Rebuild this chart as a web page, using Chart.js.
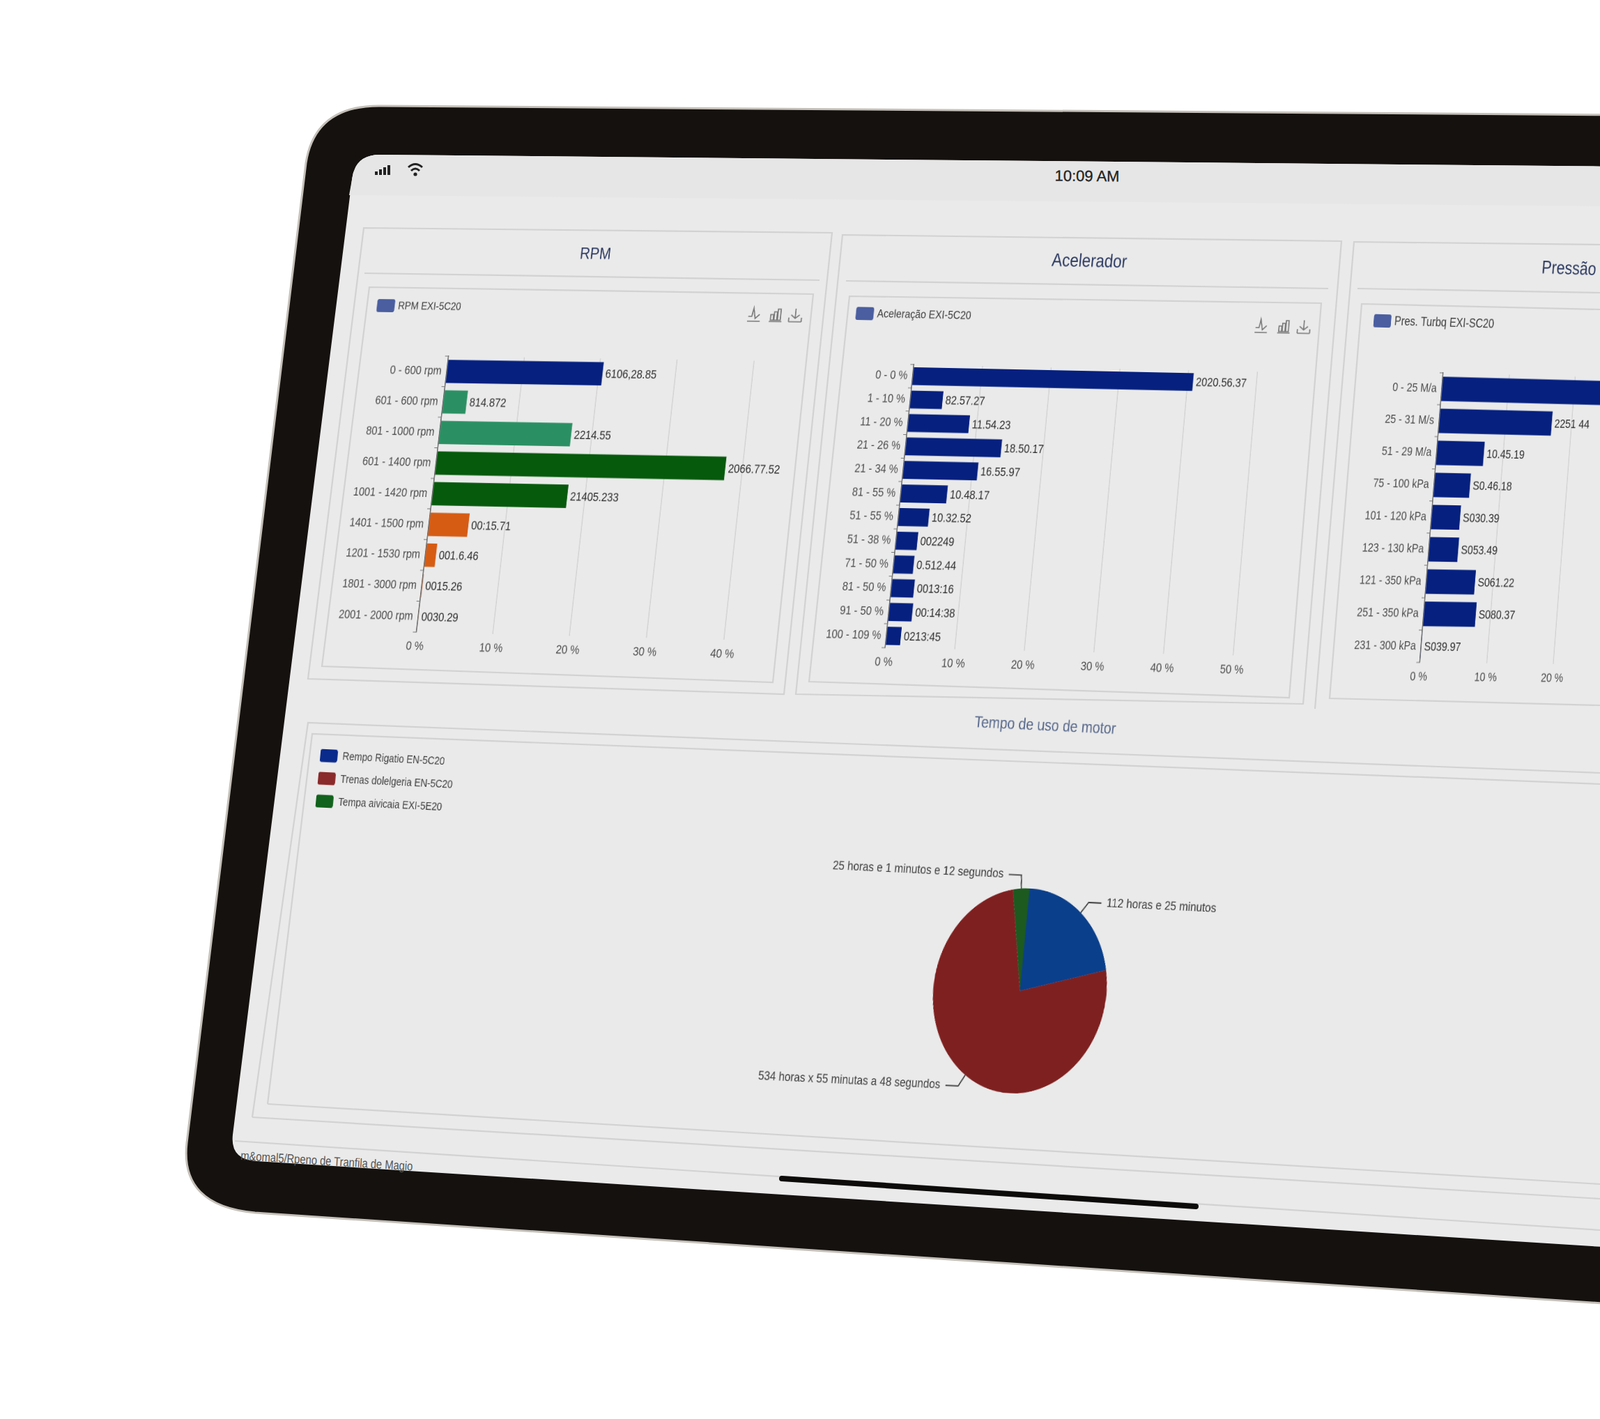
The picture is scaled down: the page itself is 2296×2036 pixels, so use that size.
<!DOCTYPE html>
<html>
<head>
<meta charset="utf-8">
<title>Painel motor</title>
<script src="https://cdn.jsdelivr.net/npm/chart.js@4/dist/chart.umd.min.js"></script>
<style>
    html, body { margin: 0; padding: 0; background: #fff; }
    #page { position: relative; width: 2296px; height: 2036px; overflow: hidden; background: #fff; filter: blur(0.5px); }
    #frame { position: absolute; left: 0; top: 0; }
    .panel { position: absolute; left: 0; top: 0; transform-origin: 0 0; }
    .panel canvas { display: block; }
</style>
</head>
<body>
<div id="page">
<svg id="frame" width="2296" height="2036" viewBox="0 0 2296 2036">
    <!-- tablet body and screen -->
    <path d="M2330 165 L548 152 Q452 150 439 234 L268 1640 Q258 1730 366 1740 L2330 1872 Z" fill="#14110e" stroke="#c4bfb8" stroke-width="3"/>
    <path d="M2330 239 L545 222 Q509 222 505 258 L334 1628 Q330 1664 368 1666 L2330 1791 Z" fill="#eaeaea"/>
    <path d="M2330 239 L545 222 Q509 222 505 258 L501 280 L2330 296 Z" fill="#e6e6e6"/>

    <!-- status bar -->
    <g fill="#222">
        <rect x="538" y="246" width="4" height="5"/>
        <rect x="544" y="243" width="4" height="8"/>
        <rect x="550" y="240" width="4" height="11"/>
        <rect x="556" y="237" width="4" height="14"/>
    </g>
    <g fill="none" stroke="#222" stroke-width="3">
        <path d="M586 240 Q596 231 606 240"/>
        <path d="M590 245 Q596 239 602 245"/>
    </g>
    <circle cx="596" cy="250" r="2.6" fill="#222"/>
    <text x="1560" y="260" text-anchor="middle" font-family="Liberation Sans" font-size="22" fill="#222" stroke="#222" stroke-width="0.3" transform="rotate(0.5 1560 252)">10:09 AM</text>

    <!-- panel frames -->
    <g fill="none" stroke="#d2d2d2" stroke-width="2.2">
        <path d="M442 974 L522 327 L1194 334 L1125 996 Z"/>
        <path d="M523 392 L1176 402"/>
        <path d="M462 956 L530 412 L1167 422 L1109 979 Z"/>
        <path d="M1142 996 L1209 337 L1925 346 L1870 1010 Z"/>
        <path d="M1214 403 L1906 414"/>
        <path d="M1161 978 L1219 425 L1896 435 L1850 1001 Z"/>
        <path d="M1887 1017 L1943 347 L2296 351"/>
        <path d="M1948 414 L2296 420"/>
        <path d="M2296 444 L1954 436 L1908 1002 L2296 1012"/>
        <path d="M362 1603 L442 1037 L2296 1109"/>
        <path d="M384 1584 L448 1053 L2296 1125"/>
        <path d="M384 1584 L2296 1699"/>
        <path d="M362 1603 L2296 1720"/>
        <path d="M337 1637 L2296 1765"/>
    </g>

    <!-- footer -->
    <text font-family="Liberation Sans" font-size="18" fill="#555" transform="translate(345 1664) rotate(3.6) scale(0.82 1)">m&amp;omal5/Rpeno de Tranfila de Magio</text>
    <path d="M1122 1691 L1716 1731" stroke="#0d0b0a" stroke-width="8" stroke-linecap="round"/>
</svg>
</div>

<script>
// RPM
const rpmCategories = ['0 - 600 rpm', '601 - 600 rpm', '801 - 1000 rpm', '601 - 1400 rpm', '1001 - 1420 rpm', '1401 - 1500 rpm', '1201 - 1530 rpm', '1801 - 3000 rpm', '2001 - 2000 rpm'];
const rpmValues = [20.5, 3.1, 17.3, 37.8, 17.7, 5.2, 1.4, 0.1, 0.05];
const rpmLabels = ['6106,28.85', '814.872', '2214.55', '2066.77.52', '21405.233', '00:15.71', '001.6.46', '0015.26', '0030.29'];
const rpmColors = ['#05207f', '#2a9063', '#2a9063', '#065a0c', '#065a0c', '#d65c14', '#d65c14', '#d65c14', '#d65c14'];

// Acelerador
const acelCategories = ['0 - 0 %', '1 - 10 %', '11 - 20 %', '21 - 26 %', '21 - 34 %', '81 - 55 %', '51 - 55 %', '51 - 38 %', '71 - 50 %', '81 - 50 %', '91 - 50 %', '100 - 109 %'];
const acelValues = [40.8, 4.7, 8.9, 13.9, 10.8, 6.7, 4.4, 3.1, 2.9, 3.3, 3.4, 2.1];
const acelLabels = ['2020.56.37', '82.57.27', '11.54.23', '18.50.17', '16.55.97', '10.48.17', '10.32.52', '002249', '0.512.44', '0013:16', '00:14:38', '0213:45'];

// Pressao
const presCategories = ['0 - 25 M/a', '25 - 31 M/s', '51 - 29 M/a', '75 - 100 kPa', '101 - 120 kPa', '123 - 130 kPa', '121 - 350 kPa', '251 - 350 kPa', '231 - 300 kPa'];
const presValues = [40, 17, 7.1, 5.4, 4.3, 4.4, 7.3, 7.8, 0.05];
const presLabels = ['', '2251 44', '10.45.19', 'S0.46.18', 'S030.39', 'S053.49', 'S061.22', 'S080.37', 'S039.97'];

// Tempo de uso
const pieLegend = ['Rempo Rigatio EN-5C20', 'Trenas dolelgeria EN-5C20', 'Tempa aivicaia EXI-5E20'];
const pieLabels = ['112 horas e 25 minutos', '534 horas x 55 minutas a 48 segundos', '25 horas e 1 minutos e 12 segundos'];
const pieValues = [21.1, 75.85, 3.05];
const pieColors = ['#0a3f8c', '#7f2020', '#1c5a20'];
const pieLegendColors = ['#0a2a8c', '#8a2a2a', '#11621c'];

const barBlue = '#05207f';
const font = 'Liberation Sans';
// the bar panels are laid out this much wider than they end up, so the text comes out narrow
const squeeze = 1 / 0.84;

// solve the 4 point perspective and put it on the element as matrix3d
const setPerspective = (el, from, to) => {
    const a = [];
    for (let i = 0; i < 4; i++) {
        const [x, y] = from[i];
        const [u, v] = to[i];
        a.push([x, y, 1, 0, 0, 0, -x * u, -y * u, u]);
        a.push([0, 0, 0, x, y, 1, -x * v, -y * v, v]);
    }
    for (let c = 0; c < 8; c++) {
        let p = c;
        for (let r = c + 1; r < 8; r++) if (Math.abs(a[r][c]) > Math.abs(a[p][c])) p = r;
        [a[c], a[p]] = [a[p], a[c]];
        for (let r = 0; r < 8; r++) {
            if (r === c) continue;
            const f = a[r][c] / a[c][c];
            for (let k = c; k < 9; k++) a[r][k] -= f * a[c][k];
        }
    }
    const h = a.map((row, i) => row[8] / row[i]);
    el.style.transform = `matrix3d(${h[0]},${h[3]},0,${h[6]},${h[1]},${h[4]},0,${h[7]},0,0,1,0,${h[2]},${h[5]},0,1)`;
};

const addPanel = (width, height) => {
    const div = document.createElement('div');
    div.className = 'panel';
    div.style.width = width + 'px';
    div.style.height = height + 'px';
    const canvas = document.createElement('canvas');
    canvas.width = width;
    canvas.height = height;
    canvas.style.width = width + 'px';
    canvas.style.height = height + 'px';
    div.appendChild(canvas);
    document.getElementById('page').appendChild(div);
    return { div, canvas };
};

const drawIcons = (ctx, xs, y) => {
    ctx.save();
    ctx.scale(squeeze, 1);
    ctx.strokeStyle = '#777';
    ctx.lineWidth = 1.6;
    xs.forEach((px, i) => {
        const x = px / squeeze;
        ctx.beginPath();
        ctx.moveTo(x - 9, y + 10);
        ctx.lineTo(x + 9, y + 10);
        if (i === 0) {
            ctx.moveTo(x - 8, y + 3);
            ctx.lineTo(x - 3, y + 3);
            ctx.lineTo(x - 1, y - 9);
            ctx.lineTo(x + 2, y + 6);
            ctx.lineTo(x + 8, y);
        } else if (i === 1) {
            ctx.rect(x - 7, y, 4, 8);
            ctx.rect(x - 2, y - 4, 4, 12);
            ctx.rect(x + 3, y - 8, 4, 16);
        } else {
            ctx.moveTo(x, y - 9);
            ctx.lineTo(x, y + 5);
            ctx.moveTo(x - 6, y);
            ctx.lineTo(x, y + 5);
            ctx.lineTo(x + 6, y);
            ctx.moveTo(x - 9, y + 4);
            ctx.lineTo(x - 9, y + 10);
            ctx.moveTo(x + 9, y + 4);
            ctx.lineTo(x + 9, y + 10);
        }
        ctx.stroke();
    });
    ctx.restore();
};

// one titled panel with a horizontal bar chart
const barPanel = (cfg) => {
    const plotLeft = 230, plotTop = 170, rightPad = 120, bottomPad = 50;
    const { div, canvas } = addPanel(Math.round(plotLeft + cfg.plotWidth * squeeze + rightPad), plotTop + cfg.plotHeight + bottomPad);

    const decor = {
        id: 'decor',
        afterDatasetsDraw: (chart) => {
            const ctx = chart.ctx;
            const area = chart.chartArea;
            const meta = chart.getDatasetMeta(0);

            // values at the end of the bars
            ctx.save();
            ctx.font = `17.5px "${font}"`;
            ctx.fillStyle = '#2e2e2e';
            ctx.textBaseline = 'middle';
            ctx.textAlign = 'left';
            meta.data.forEach((bar, i) => {
                ctx.fillText(cfg.labels[i], bar.x + 5, bar.y + 1);
            });

            // title
            ctx.font = `${cfg.titleSize}px "${font}"`;
            ctx.fillStyle = '#2c3a62';
            ctx.textAlign = 'center';
            ctx.fillText(cfg.title, area.left + cfg.titleX * squeeze, area.top + cfg.titleY);

            // legend
            const legendX = area.left + cfg.legendX * squeeze;
            ctx.fillStyle = '#4a5ea0';
            ctx.beginPath();
            ctx.roundRect(legendX, area.top - 82, 26 * squeeze, 19, 3);
            ctx.fill();
            ctx.fillStyle = '#3c3c3c';
            ctx.textAlign = 'left';
            ctx.font = `${cfg.legendSize}px "${font}"`;
            ctx.fillText(cfg.legend, legendX + 31 * squeeze, area.top - 72);
            ctx.restore();

            if (cfg.icons) drawIcons(ctx, cfg.icons.map(x => area.right + x * squeeze), area.top - 67);
        }
    };

    const chart = new Chart(canvas, {
        type: 'bar',
        data: {
            labels: cfg.categories,
            datasets: [{
                data: cfg.values,
                backgroundColor: cfg.colors,
                barPercentage: 0.76,
                categoryPercentage: 1
            }]
        },
        options: {
            indexAxis: 'y',
            responsive: false,
            animation: false,
            devicePixelRatio: 2,
            layout: { padding: { left: 0, top: plotTop, right: rightPad, bottom: 0 } },
            plugins: { legend: { display: false }, tooltip: { enabled: false } },
            scales: {
                x: {
                    min: 0,
                    max: cfg.maxX,
                    afterFit: (scale) => { scale.height = bottomPad; },
                    border: { display: false },
                    grid: { color: '#d0d0d0', lineWidth: 1.5, drawTicks: false },
                    ticks: {
                        stepSize: 10,
                        padding: 10,
                        color: '#4d4d4d',
                        font: { family: font, size: 17.5 },
                        callback: (v) => `${v} %`
                    }
                },
                y: {
                    afterFit: (scale) => { scale.width = plotLeft; },
                    border: { display: true, color: '#666', width: 1.6 },
                    grid: { drawOnChartArea: false, color: '#777', tickLength: 6 },
                    ticks: {
                        autoSkip: false,
                        padding: 3,
                        color: '#4d4d4d',
                        font: { family: font, size: 17.5 }
                    }
                }
            }
        },
        plugins: [decor]
    });

    const a = chart.chartArea;
    setPerspective(div, [[a.left, a.top], [a.right, a.top], [a.right, a.bottom], [a.left, a.bottom]], cfg.quad);
    return chart;
};

const piePanel = () => {
    const centerX = 1150, centerY = 400, radius = 135, width = 1530, height = 720;
    const { div, canvas } = addPanel(width, height);

    const decor = {
        id: 'pieDecor',
        afterDatasetsDraw: (chart) => {
            const ctx = chart.ctx;
            const arcs = chart.getDatasetMeta(0).data;
            const cx = arcs[0].x, cy = arcs[0].y, r = arcs[0].outerRadius;
            ctx.save();

            // title
            ctx.font = `21px "${font}"`;
            ctx.fillStyle = '#56678a';
            ctx.textAlign = 'center';
            ctx.textBaseline = 'middle';
            ctx.fillText('Tempo de uso de motor', cx, cy - 349);

            // legend
            ctx.textAlign = 'left';
            ctx.font = `14.5px "${font}"`;
            pieLegend.forEach((text, i) => {
                const y = cy - 273 + i * 30;
                ctx.fillStyle = pieLegendColors[i];
                ctx.beginPath();
                ctx.roundRect(cx - 1123, y, 27, 17, 3);
                ctx.fill();
                ctx.fillStyle = '#3c3c3c';
                ctx.fillText(text, cx - 1088, y + 9);
            });

            // labels with their leader lines
            ctx.strokeStyle = '#444';
            ctx.lineWidth = 1.8;
            ctx.font = `16.5px "${font}"`;
            ctx.fillStyle = '#3c3c3c';
            arcs.forEach((arc, i) => {
                const mid = (arc.startAngle + arc.endAngle) / 2;
                const side = Math.cos(mid) >= 0 && i === 0 ? 1 : -1;
                const ex = cx + Math.cos(mid) * r * 1.13;
                const ey = cy + Math.sin(mid) * r * 1.13;
                ctx.beginPath();
                ctx.moveTo(cx + Math.cos(mid) * r, cy + Math.sin(mid) * r);
                ctx.lineTo(ex, ey);
                ctx.lineTo(ex + side * 20, ey);
                ctx.stroke();
                ctx.textAlign = side > 0 ? 'left' : 'right';
                ctx.fillText(pieLabels[i], ex + side * 28, ey);
            });
            ctx.restore();
        }
    };

    const chart = new Chart(canvas, {
        type: 'pie',
        data: {
            labels: pieLabels,
            datasets: [{ data: pieValues, backgroundColor: pieColors, borderWidth: 0 }]
        },
        options: {
            responsive: false,
            animation: false,
            devicePixelRatio: 2,
            layout: {
                padding: {
                    left: centerX - radius,
                    right: width - centerX - radius,
                    top: centerY - radius,
                    bottom: height - centerY - radius
                }
            },
            plugins: { legend: { display: false }, tooltip: { enabled: false } }
        },
        plugins: [decor]
    });

    const arc = chart.getDatasetMeta(0).data[0];
    const r = arc.outerRadius;
    setPerspective(div,
        [[arc.x - r, arc.y - r], [arc.x + r, arc.y - r], [arc.x + r, arc.y + r], [arc.x - r, arc.y + r]],
        [[1353.5, 1268.7], [1601.5, 1280.7], [1573.5, 1574.7], [1325.5, 1562.7]]);
};

barPanel({
    title: 'RPM', titleSize: 24, legend: 'RPM EXI-5C20', legendSize: 16,
    categories: rpmCategories, values: rpmValues, labels: rpmLabels, colors: rpmColors,
    maxX: 40, plotWidth: 440, plotHeight: 400,
    titleX: 196, titleY: -151, legendX: -113, icons: [-7, 24, 52],
    quad: [[643.6, 511], [1082, 517.6], [1038.6, 918], [597.5, 907]]
});

barPanel({
    title: 'Acelerador', titleSize: 27, legend: 'Aceleração EXI-5C20', legendSize: 17,
    categories: acelCategories, values: acelValues, labels: acelLabels, colors: barBlue,
    maxX: 50, plotWidth: 500, plotHeight: 406,
    titleX: 241, titleY: -155, legendX: -92, icons: [0, 33, 62],
    quad: [[1311.4, 523], [1804.4, 533.4], [1769.5, 940.5], [1270.2, 929.4]]
});

barPanel({
    title: 'Pressão', titleSize: 27, legend: 'Pres. Turbq EXI-SC20', legendSize: 18,
    categories: presCategories, values: presValues, labels: presLabels, colors: barBlue,
    maxX: 50, plotWidth: 500, plotHeight: 415,
    titleX: 178, titleY: -156, legendX: -110, icons: null,
    quad: [[2070.7, 535], [2539.7, 547.5], [2510.8, 956], [2037.3, 950.5]]
});

piePanel();
</script>
</body>
</html>
